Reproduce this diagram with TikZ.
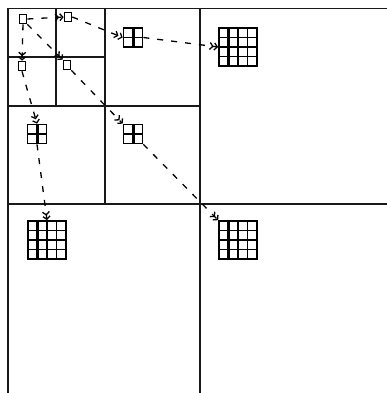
\documentclass[tikz,border=0pt]{standalone}
\usetikzlibrary{arrows.meta}
\begin{document}
\begin{tikzpicture}[x=1pt,y=-1pt,
  cellline/.style={line width=1.8pt, draw=black!90},
  conn/.style={line width=1.3pt, dash pattern=on 6pt off 8pt,
    -{Straight Barb[length=3pt,width=7pt] Straight Barb[length=3pt,width=7pt]}},
  sq/.style={draw, line width=1.7pt, minimum width=7pt, minimum height=9pt, inner sep=0pt},
  gtwo/.style={draw, line width=1.7pt, minimum size=19pt, inner sep=0pt,
    path picture={
      \draw[line width=3pt] (path picture bounding box.north) -- (path picture bounding box.south);
      \draw[line width=1.7pt] (path picture bounding box.west) -- (path picture bounding box.east);}},
  gfour/.style={draw, line width=1.7pt, minimum size=38pt, inner sep=0pt,
    path picture={
      \draw[line width=3.2pt] (path picture bounding box.north west) ++(9.5,0) -- ++(0,40);
      \draw[line width=1.7pt] (path picture bounding box.north west) ++(19,0) -- ++(0,40);
      \draw[line width=1.7pt] (path picture bounding box.north west) ++(28.5,0) -- ++(0,40);
      \draw[line width=1.7pt] (path picture bounding box.north west) ++(0,9.5) -- ++(40,0);
      \draw[line width=1.7pt] (path picture bounding box.north west) ++(0,19) -- ++(40,0);
      \draw[line width=1.7pt] (path picture bounding box.north west) ++(0,28.5) -- ++(40,0);}}
]
\useasboundingbox (0,0) rectangle (387,393);
\fill[white] (0,0) rectangle (387,393);
\begin{scope}
\clip (0,0) rectangle (387,393);
% quadtree cell lines
\draw[cellline] (8,400) -- (8,8.5) -- (400,8.5);
\draw[cellline] (200,8.5) -- (200,400);
\draw[cellline] (8,204) -- (400,204);
\draw[cellline] (105,8.5) -- (105,204);
\draw[cellline] (8,106) -- (200,106);
\draw[cellline] (56,8.5) -- (56,106);
\draw[cellline] (8,57) -- (105,57);
\end{scope}
% level 3 blocks
\node[sq] (a) at (23,19) {};
\node[sq] (b) at (68,17) {};
\node[sq] (c) at (22,66) {};
\node[sq] (d) at (67,65) {};
% level 2 blocks
\node[gtwo] (e) at (133,37.5) {};
\node[gtwo] (f) at (37,134) {};
\node[gtwo] (g) at (133,134) {};
% level 1 blocks
\node[gfour] (h) at (238,47) {};
\node[gfour] (i) at (47,240) {};
\node[gfour] (j) at (238,240) {};
% connectors
\draw[conn] (a.east) -- (b.west);
\draw[conn] (a.south) -- (c.north);
\draw[conn] (a.south east) -- (d.north west);
\draw[conn] (b.east) -- (e.west);
\draw[conn] (c.south) -- (f.north);
\draw[conn] (d.south east) -- (g.north west);
\draw[conn] (e.east) -- (h.west);
\draw[conn] (f.south) -- (i.north);
\draw[conn] (g.south east) -- (j.north west);
\end{tikzpicture}
\end{document}
